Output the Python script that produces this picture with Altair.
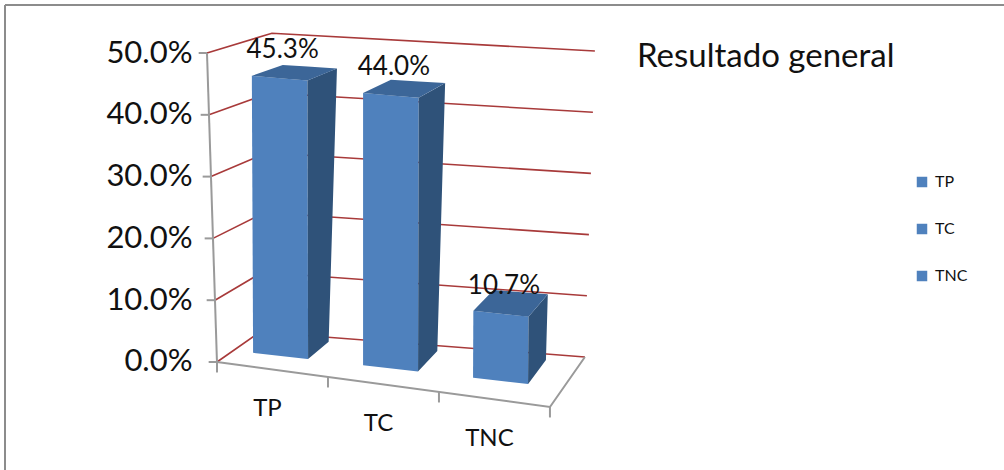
import altair as alt
import pandas as pd

# ---- chart values ----
categories = ["TP", "TC", "TNC"]
shares = [0.453, 0.440, 0.107]
tick_values = [0.0, 0.1, 0.2, 0.3, 0.4, 0.5]

# ---- 3-D view of the plot box ----
N_CAT = len(categories)
V_MAX = 0.5
# Projected corners of the box in chart units (x: category slots, y: share).
# key = (right end, top, back wall)
BOX = {
    (0, 0, 0): (0.000, 0.0000),
    (0, 1, 0): (-0.090, 0.5000),
    (0, 0, 1): (0.387, 0.0485),
    (0, 1, 1): (0.495, 0.5320),
    (1, 0, 0): (3.000, -0.0728),
    (1, 1, 0): (2.982, 0.4482),
    (1, 0, 1): (3.315, 0.0081),
    (1, 1, 1): (3.405, 0.5032),
}
BAR_SPAN = (0.18, 0.68)   # bar extent inside its category slot
BAR_DEPTH = (0.38, 0.88)  # bar extent along depth (0 = front, 1 = back wall)

BLUE = "#4F81BD"
BLUE_SIDE = "#2F5279"
BLUE_TOP = "#3C6698"
GRID_RED = "#A83A3A"
EDGE_GRAY = "#9A9A9A"
TEXT = "#111111"
FONT = "Lato"


def project(c, v, d):
    """Trilinear projection of (category, share, depth) into chart units."""
    u, w = c / N_CAT, v / V_MAX
    x = y = 0.0
    for (a, b, e), (px, py) in BOX.items():
        wt = (u if a else 1 - u) * (w if b else 1 - w) * (d if e else 1 - d)
        x += wt * px
        y += wt * py
    return x, y


def polygon_rows(pts, face, cat):
    """Convex polygon -> area rows (x, top, bot) sampled at each vertex x."""
    xs = sorted({p[0] for p in pts})
    rows = []
    n = len(pts)
    for x in xs:
        ys = []
        for k in range(n):
            (x1, y1), (x2, y2) = pts[k], pts[(k + 1) % n]
            if min(x1, x2) - 1e-9 <= x <= max(x1, x2) + 1e-9:
                if abs(x2 - x1) < 1e-12:
                    ys += [y1, y2]
                else:
                    ys.append(y1 + (y2 - y1) * (x - x1) / (x2 - x1))
        rows.append({"face": face, "cat": cat, "x": x, "top": max(ys), "bot": min(ys)})
    return rows


front_rows, side_rows, top_rows, value_rows, cat_rows = [], [], [], [], []
d0, d1 = BAR_DEPTH
for i, (cat, v) in enumerate(zip(categories, shares)):
    c0, c1 = i + BAR_SPAN[0], i + BAR_SPAN[1]
    front = [project(c0, 0, d0), project(c1, 0, d0), project(c1, v, d0), project(c0, v, d0)]
    side = [project(c1, 0, d0), project(c1, 0, d1), project(c1, v, d1), project(c1, v, d0)]
    top = [project(c0, v, d0), project(c1, v, d0), project(c1, v, d1), project(c0, v, d1)]
    front_rows += polygon_rows(front, f"{cat}-front", cat)
    side_rows += polygon_rows(side, f"{cat}-side", cat)
    top_rows += polygon_rows(top, f"{cat}-top", cat)
    lx, ly = project((c0 + c1) / 2, v, d0)
    value_rows.append({"x": lx, "y": ly, "share": v})
    bx, by = project(i + 0.5, 0, 0)
    cat_rows.append({"x": bx, "y": by, "cat": cat})

# gridlines: left wall then back wall
grid_rows = []
for v in tick_values:
    for s, (c, d) in enumerate([(0, 0), (0, 1), (N_CAT, 1)]):
        x, y = project(c, v, d)
        grid_rows.append({"line": v, "seq": s, "x": x, "y": y})

# floor front/right edges and the value axis line
edge_rows = []
for s, (c, d) in enumerate([(0, 0), (N_CAT, 0), (N_CAT, 1)]):
    x, y = project(c, 0, d)
    edge_rows.append({"line": "floor", "seq": s, "x": x, "y": y})
for s, v in enumerate([0, V_MAX]):
    x, y = project(0, v, 0)
    edge_rows.append({"line": "axis", "seq": s, "x": x, "y": y})

# tick marks
TICK_W = 0.075   # horizontal tick length, category units
TICK_H = 0.017   # vertical tick length, share units
ytick_rows = []
for v in tick_values:
    x, y = project(0, v, 0)
    ytick_rows.append({"x": x - TICK_W, "x2": x, "y": y})
xtick_rows = []
for c in range(N_CAT + 1):
    x, y = project(c, 0, 0)
    xtick_rows.append({"x": x, "y": y, "y2": y - TICK_H})

xs = alt.Scale(domain=[-0.153, 3.451], nice=False, zero=False)
ys = alt.Scale(domain=[-0.0939, 0.5405], nice=False, zero=False)
yaxis = alt.Axis(values=tick_values, format=".1%", title=None, grid=False,
                 domain=False, ticks=False, labelPadding=8, labelFont=FONT,
                 labelFontSize=31, labelColor=TEXT)


def X(f):
    return alt.X(f"{f}:Q", scale=xs, axis=None)


def Y(f):
    return alt.Y(f"{f}:Q", scale=ys, axis=yaxis, stack=None)


grid = alt.Chart(pd.DataFrame(grid_rows)).mark_line(color=GRID_RED, strokeWidth=1.6).encode(
    x=X("x"), y=Y("y"), detail="line:N", order="seq:Q")
edges = alt.Chart(pd.DataFrame(edge_rows)).mark_line(color=EDGE_GRAY, strokeWidth=2).encode(
    x=X("x"), y=Y("y"), detail="line:N", order="seq:Q")
yticks = alt.Chart(pd.DataFrame(ytick_rows)).mark_rule(color=EDGE_GRAY, strokeWidth=2).encode(
    x=X("x"), x2="x2:Q", y=Y("y"))
xticks = alt.Chart(pd.DataFrame(xtick_rows)).mark_rule(color=EDGE_GRAY, strokeWidth=2).encode(
    x=X("x"), y=Y("y"), y2="y2:Q")

fronts = alt.Chart(pd.DataFrame(front_rows)).mark_area(orient="vertical", opacity=1).encode(
    x=X("x"), y=Y("top"), y2=alt.Y2("bot"), detail="face:N",
    color=alt.Color("cat:N", sort=categories,
                    scale=alt.Scale(domain=categories, range=[BLUE] * N_CAT),
                    legend=alt.Legend(title=None, orient="none", legendX=714, legendY=146,
                                      symbolType="square", symbolSize=110,
                                      symbolStrokeWidth=0, labelFont=FONT,
                                      labelFontSize=16, labelColor=TEXT,
                                      labelOffset=5, rowPadding=31)))
sides = alt.Chart(pd.DataFrame(side_rows)).mark_area(orient="vertical", color=BLUE_SIDE, opacity=1).encode(
    x=X("x"), y=Y("top"), y2=alt.Y2("bot"), detail="face:N")
tops = alt.Chart(pd.DataFrame(top_rows)).mark_area(orient="vertical", color=BLUE_TOP, opacity=1).encode(
    x=X("x"), y=Y("top"), y2=alt.Y2("bot"), detail="face:N")

value_labels = alt.Chart(pd.DataFrame(value_rows)).mark_text(
    font=FONT, fontSize=26, color=TEXT, dy=-28, dx=3, baseline="middle").encode(
    x=X("x"), y=Y("y"), text=alt.Text("share:Q", format=".1%"))
cat_labels = alt.Chart(pd.DataFrame(cat_rows)).mark_text(
    font=FONT, fontSize=24, color=TEXT, dy=40, dx=-5, baseline="middle").encode(
    x=X("x"), y=Y("y"), text="cat:N")

# outer frame of the chart area
frame = alt.Chart(alt.Data(values=[{}])).mark_rule(color="#8C8C8C", strokeWidth=2)
frame_top = frame.encode(x=alt.value(-195), x2=alt.value(810), y=alt.value(-23))
frame_left = frame.encode(x=alt.value(-195), y=alt.value(-23), y2=alt.value(450))

chart = alt.layer(
    grid, edges, yticks, xticks, fronts, sides, tops, value_labels, cat_labels,
    frame_top, frame_left,
).properties(
    width=400, height=392, autosize="none",
    padding={"left": 200, "top": 28, "right": 404, "bottom": 50},
    background="white",
    title=alt.TitleParams("Resultado general", anchor="start", frame="group",
                          dx=437, dy=96, offset=0, baseline="alphabetic",
                          font=FONT, fontSize=33, fontWeight="normal", color=TEXT),
).configure_view(strokeWidth=0)

chart.save("out.html", embed_options={"renderer": "svg", "actions": False})
